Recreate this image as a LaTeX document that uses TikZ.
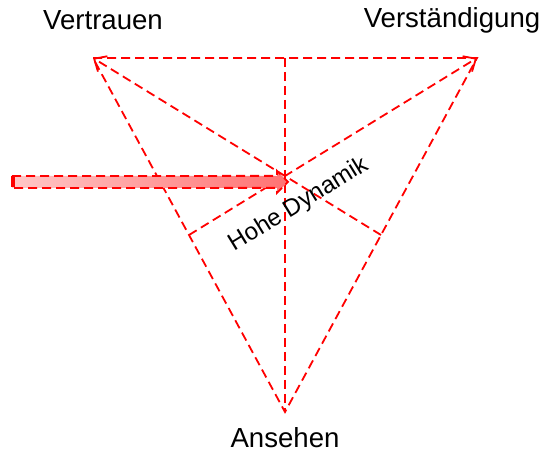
\documentclass[tikz,border=0pt]{standalone}
\usepackage{fontspec}
\setmainfont{Liberation Sans}
\usetikzlibrary{positioning, calc, arrows.meta}

\tikzset{
  aux/.style={draw=red, line width=0.9pt, dash pattern=on 4.5pt off 2.5pt},
  medarrow/.style={aux, -{Straight Barb[length=5pt,width=9pt]}},
  cornerlabel/.style={font=\fontsize{13.8}{16}\selectfont},
  bigarrow/.style={aux, left color=red!22, right color=red!55},
}

\begin{document}
\begin{tikzpicture}[x=0.5pt, y=-0.5pt]
        \useasboundingbox (0,0) rectangle (551,453);
        % corners of the triangle
        \coordinate (vt) at (93,58);
        \coordinate (vs) at (477,58);
        \coordinate (an) at (285,412);
        \coordinate (mtop) at ($(vt)!0.5!(vs)$);
        \coordinate (mleft) at ($(vt)!0.5!(an)$);
        \coordinate (mright) at ($(vs)!0.5!(an)$);
        \coordinate (ctr) at ($(mtop)!0.333!(an)$);

        \node[cornerlabel] (lvt) at (103,20) {Vertrauen};
        \node[cornerlabel] (lvs) at (452,20) {Verständigung};
        \node[cornerlabel] (lan) at (285,438) {Ansehen};

        % triangle and medians
        \draw[aux] (vt) -- (vs) -- (an) -- cycle;
        \draw[aux] (mtop) -- (an);
        \draw[medarrow] (mleft) -- (vs);
        \draw[medarrow] (mright) -- (vt);

        \node[font=\fontsize{12.1}{14}\selectfont, rotate=31.6] (hd) at (299,205) {Hohe Dynamik};

        % push towards the centre
        \coordinate (src) at (12,182);
        \coordinate (tip) at ($(ctr)+(3,6)$);
        \path[bigarrow] ($(src)+(0,-6)$) -- ($(tip)+(-11,-6)$) -- ($(tip)+(-11,-11)$)
          -- (tip) -- ($(tip)+(-11,11)$) -- ($(tip)+(-11,6)$) -- ($(src)+(0,6)$) -- cycle;
        \draw[red, line width=2pt] ($(src)+(1,-5)$) -- ($(src)+(1,5)$);
\end{tikzpicture}
\end{document}
